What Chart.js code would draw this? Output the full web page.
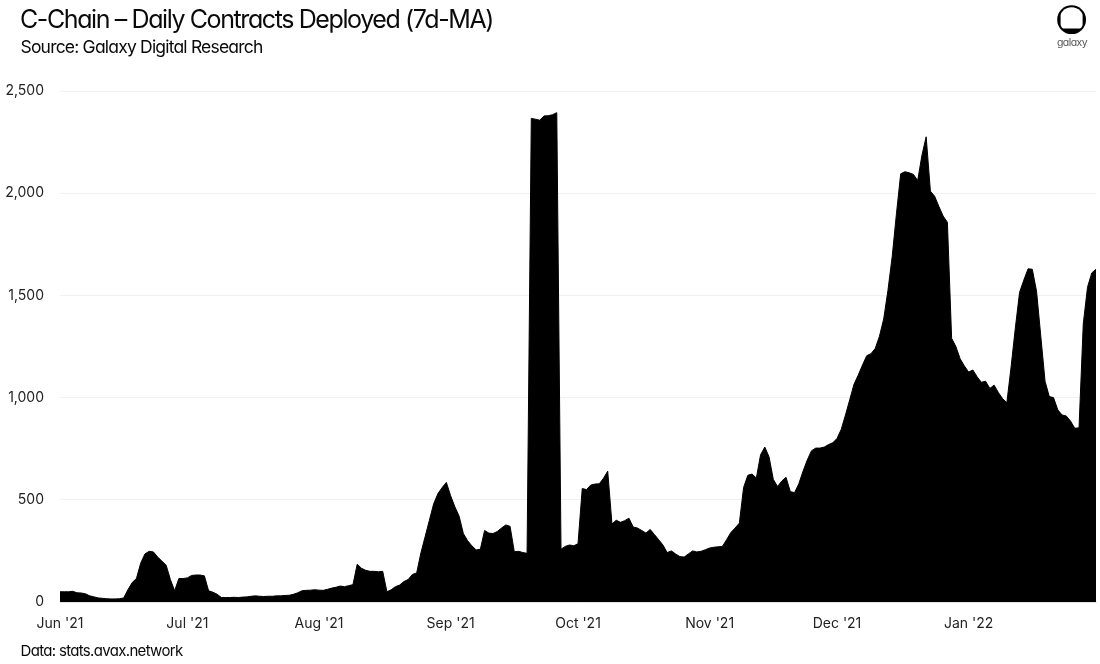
<!DOCTYPE html>
<html>
<head>
<meta charset="utf-8">
<script src="https://cdn.jsdelivr.net/npm/chart.js@4/dist/chart.umd.min.js"></script>
<style>
  html, body { margin:0; padding:0; background:#fff; width:1100px; height:664px; overflow:hidden; }
  #wrap { position:relative; width:1100px; height:664px; }
  #c { position:absolute; left:0; top:0; }
  .t { position:absolute; white-space:nowrap; color:#0a0a0a; font-family:Inter, "Noto Sans", sans-serif; font-feature-settings:"cv11"; line-height:1; }
  #title { left:20px; top:6.6px; font-size:25px; }
  #subtitle { left:20.5px; top:38.3px; font-size:17.5px; }
  #footer { left:20.5px; top:642.5px; font-size:15px; }
  #brand { left:1072px; top:38px; font-size:10.5px; color:#555; transform:translateX(-50%); }
  #logo { position:absolute; left:1055px; top:4px; }
</style>
</head>
<body>
<div id="wrap">
  <canvas id="c" width="1100" height="664"></canvas>
  <div class="t" id="title" data-w="473">C-Chain – Daily Contracts Deployed (7d-MA)</div>
  <div class="t" id="subtitle" data-w="242">Source: Galaxy Digital Research</div>
  <div class="t" id="footer" data-w="162">Data: stats.avax.network</div>
  <svg id="logo" width="34" height="32" viewBox="1055 4 34 32">
    <defs><clipPath id="cl"><circle cx="1071.6" cy="19.7" r="12.4"/></clipPath></defs>
    <circle cx="1071.6" cy="19.7" r="14.4" fill="#000"/>
    <rect x="1060.6" y="6" width="22" height="22.6" rx="1" fill="#fff" clip-path="url(#cl)"/>
  </svg>
  <div class="t" id="brand" data-w="30">galaxy</div>
</div>
<script>
// ---- data (daily 7d-MA of contracts deployed on the C-Chain) ----
const monthLabels = ["Jun '21", "Jul '21", "Aug '21", "Sep '21", "Oct '21", "Nov '21", "Dec '21", "Jan '22"];
const jun21 = [50,50,50,52,45,44,40,30,25,20,18,16,15,15,16,20,60,95,115,190,235,248,245,220,200,180,110,55,115,115];
const jul21 = [118,130,132,132,128,55,48,38,22,22,22,23,22,24,25,28,30,28,27,28,28,30,30,32,33,38,45,55,57,58,60];
const aug21 = [58,57,62,68,72,78,75,80,85,185,165,155,150,150,148,150,50,60,75,83,100,110,135,142,240,320,400,480,530,560,585];
const sep21 = [520,466,420,335,300,275,255,258,350,337,335,345,362,377,370,246,248,242,238,2366,2362,2357,2378,2379,2384,2394,258,272,279,275];
const oct21 = [285,555,550,572,577,578,605,640,382,400,390,398,410,367,362,350,337,355,330,305,279,242,250,235,222,220,235,250,245,248,256];
const nov21 = [264,268,270,272,305,340,362,386,560,620,626,606,720,758,710,600,565,592,610,540,535,578,640,695,740,753,753,758,770,779];
const dec21 = [800,845,915,990,1065,1110,1159,1205,1215,1240,1300,1385,1525,1690,1900,2095,2105,2100,2092,2062,2185,2276,2010,1985,1935,1888,1858,1290,1250,1190,1155];
const jan22 = [1125,1135,1102,1075,1080,1045,1061,1025,995,975,1150,1340,1515,1575,1630,1628,1520,1300,1080,1005,1000,940,915,910,885,850,852,1360,1540,1610,1628];
const yTicks = [0, 500, 1000, 1500, 2000, 2500];

const months = [jun21, jul21, aug21, sep21, oct21, nov21, dec21, jan22];
const monthStarts = [];
let acc = 0;
months.forEach(m => { monthStarts.push(acc); acc += m.length; });
const series = months.flat();
const points = series.map((v, i) => ({ x: i, y: v }));

// fit text widths
document.querySelectorAll('.t').forEach(el => {
  const target = parseFloat(el.dataset.w);
  const w = el.getBoundingClientRect().width;
  const n = el.textContent.length;
  el.style.letterSpacing = ((target - w) / n).toFixed(3) + 'px';
});

const tickFont = { family: 'Inter, "Noto Sans", sans-serif', size: 14 };

new Chart(document.getElementById('c'), {
  type: 'line',
  data: {
    datasets: [{
      data: points,
      fill: 'origin',
      backgroundColor: '#000',
      borderColor: '#000',
      borderWidth: 1,
      pointRadius: 0,
      tension: 0
    }]
  },
  options: {
    responsive: false,
    animation: false,
    layout: { padding: { left: 0, right: 4, top: 91, bottom: 0 } },
    plugins: { legend: { display: false }, tooltip: { enabled: false } },
    scales: {
      x: {
        type: 'linear',
        min: 0,
        max: series.length - 1,
        afterFit: s => { s.height = 62; },
        afterBuildTicks: s => { s.ticks = monthStarts.map(v => ({ value: v })); },
        ticks: {
          autoSkip: false, maxRotation: 0, padding: 5,
          font: tickFont, color: '#222',
          callback: v => { const k = monthStarts.indexOf(v); return k >= 0 ? monthLabels[k] : ''; }
        },
        grid: { display: false },
        border: { display: true, color: '#e2e2e2' }
      },
      y: {
        min: 0, max: 2500,
        afterFit: s => { s.width = 60; },
        afterBuildTicks: s => { s.ticks = yTicks.map(v => ({ value: v })); },
        ticks: {
          padding: 16, font: tickFont, color: '#222',
          callback: v => v.toLocaleString('en-US')
        },
        grid: { color: '#f1f1f1', drawTicks: false },
        border: { display: false }
      }
    }
  }
});
</script>
</body>
</html>
